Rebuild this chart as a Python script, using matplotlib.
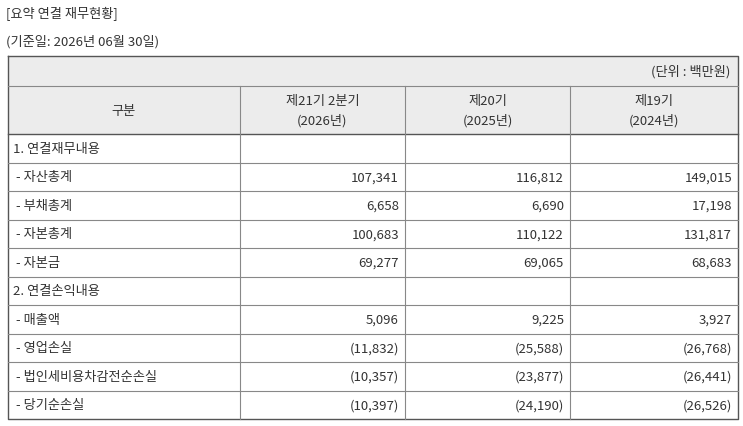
import matplotlib
matplotlib.use("Agg")
import matplotlib.pyplot as plt
from matplotlib.patches import Rectangle

plt.rcParams['font.family'] = ['Noto Sans CJK KR', 'DejaVu Sans']

title = "[요약 연결 재무현황]"
subtitle = "(기준일: 2026년 06월 30일)"
unit = "(단위 : 백만원)"
headers = ["구분", "제21기 2분기\n(2026년)", "제20기\n(2025년)", "제19기\n(2024년)"]
labels = ["1. 연결재무내용", " - 자산총계", " - 부채총계", " - 자본총계", " - 자본금",
          "2. 연결손익내용", " - 매출액", " - 영업손실", " - 법인세비용차감전순손실", " - 당기순손실"]
col21 = ["", "107,341", "6,658", "100,683", "69,277", "", "5,096", "(11,832)", "(10,357)", "(10,397)"]
col20 = ["", "116,812", "6,690", "110,122", "69,065", "", "9,225", "(25,588)", "(23,877)", "(24,190)"]
col19 = ["", "149,015", "17,198", "131,817", "68,683", "", "3,927", "(26,768)", "(26,441)", "(26,526)"]

W, H = 743, 427
fig = plt.figure(figsize=(W/100, H/100), dpi=100)
ax = fig.add_axes([0, 0, 1, 1])
ax.set_xlim(0, W); ax.set_ylim(H, 0); ax.axis('off')

tc = '#333333'; lc = '#888888'; gray = '#ececec'
fs = 9.5
xs = [8, 240, 405, 570, 738]
top, unit_b, head_b, bot = 57, 87, 135, 420
n = len(labels)
rh = (bot - head_b) / n

ax.text(6, 14, title, fontsize=fs, color=tc, va='center')
ax.text(6, 42, subtitle, fontsize=fs, color=tc, va='center')

ax.add_patch(Rectangle((xs[0], top), xs[-1]-xs[0], head_b-top, facecolor=gray, edgecolor='none'))
ax.text(xs[-1]-8, (top+unit_b)/2, unit, fontsize=fs, color=tc, ha='right', va='center')
for i, h in enumerate(headers):
    ax.text((xs[i]+xs[i+1])/2, (unit_b+head_b)/2, h, fontsize=fs, color=tc, ha='center', va='center', linespacing=1.6)

# lines
ax.plot([xs[0], xs[-1], xs[-1], xs[0], xs[0]], [top, top, bot, bot, top], color='#555555', lw=1)
ax.plot([xs[0], xs[-1]], [unit_b, unit_b], color=lc, lw=0.8)
ax.plot([xs[0], xs[-1]], [head_b, head_b], color='#555555', lw=1)
for x in xs[1:-1]:
    ax.plot([x, x], [unit_b, bot], color=lc, lw=0.8)
for r in range(1, n):
    y = head_b + r*rh
    ax.plot([xs[0], xs[-1]], [y, y], color=lc, lw=0.8)

for r in range(n):
    yc = head_b + (r+0.5)*rh
    ax.text(xs[0]+5, yc, labels[r], fontsize=fs, color=tc, va='center')
    for j, col in enumerate([col21, col20, col19]):
        ax.text(xs[j+2]-6, yc, col[r], fontsize=fs, color=tc, ha='right', va='center')

fig.savefig("out.png", dpi=100)
